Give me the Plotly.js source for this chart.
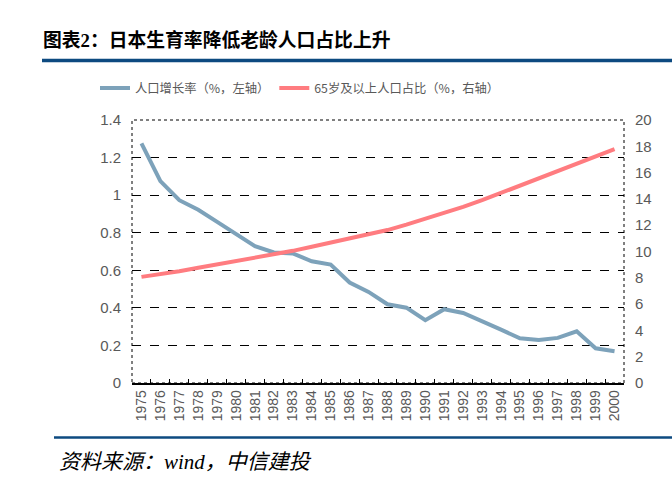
<!DOCTYPE html>
<html>
<head>
<meta charset="utf-8">
<script src="https://cdn.plot.ly/plotly-3.0.1.min.js"></script>
<style>html,body{margin:0;padding:0;background:#fff;}#chart{width:672px;height:497px;}</style>
</head>
<body>
<div id="chart"></div>
<script>
var years = ["1975","1976","1977","1978","1979","1980","1981","1982","1983","1984","1985","1986","1987","1988","1989","1990","1991","1992","1993","1994","1995","1996","1997","1998","1999","2000"];
var growthRate = [1.276,1.075,0.973,0.922,0.858,0.796,0.728,0.695,0.690,0.648,0.630,0.535,0.485,0.419,0.401,0.334,0.393,0.373,0.330,0.284,0.238,0.229,0.240,0.275,0.185,0.169];
var elderlyShare = [8.07,8.27,8.50,8.76,9.01,9.26,9.54,9.80,10.05,10.36,10.66,10.99,11.30,11.63,12.04,12.47,12.92,13.40,13.90,14.46,14.99,15.58,16.13,16.71,17.27,17.78];
var seriesNames = ["人口增长率（%，左轴）","65岁及以上人口占比（%，右轴）"];
var leftTicks = [0,0.2,0.4,0.6,0.8,1,1.2,1.4];
var rightTicks = [0,2,4,6,8,10,12,14,16,18,20];

var traces = [
  {x: years, y: growthRate, name: seriesNames[0], type: 'scatter', mode: 'lines',
   line: {color: '#7da2ba', width: 4}, yaxis: 'y'},
  {x: years, y: elderlyShare, name: seriesNames[1], type: 'scatter', mode: 'lines',
   line: {color: '#ff7c80', width: 4}, yaxis: 'y2'}
];

var tickFont = {family: 'Liberation Sans, Arial, sans-serif', size: 15, color: '#595959'};

var layout = {
  width: 672, height: 497,
  margin: {l: 132, r: 48, t: 120, b: 114},
  paper_bgcolor: '#fff', plot_bgcolor: '#fff',
  showlegend: true,
  title: {
    text: '图表<span style="font-family:Liberation Serif">2</span>：日本生育率降低老龄人口占比上升',
    font: {family: 'Noto Sans CJK SC, sans-serif', size: 18.8, color: '#000', weight: 'bold'},
    xref: 'container', yref: 'container', x: 43/672, xanchor: 'left', y: 1 - 40/497, yanchor: 'middle'
  },
  legend: {
    orientation: 'h', xref: 'container', yref: 'container',
    x: 95/672, xanchor: 'left', y: 1 - 88/497, yanchor: 'middle',
    font: {family: 'Noto Sans CJK SC, sans-serif', size: 12.3, color: '#595959'},
    itemwidth: 30,
    bgcolor: 'rgba(0,0,0,0)'
  },
  xaxis: {
    type: 'category', categoryorder: 'array', categoryarray: years, range: [-0.5, 25.5],
    tickangle: -90, tickfont: {family: 'Liberation Sans, Arial, sans-serif', size: 14, color: '#595959'},
    showline: true, linecolor: '#000', linewidth: 1.5,
    ticks: 'inside', tickson: 'boundaries', ticklen: 4, tickcolor: '#000', tickwidth: 1,
    showgrid: false, zeroline: false, fixedrange: true
  },
  yaxis: {
    range: [0, 1.4], tickvals: leftTicks, ticktext: leftTicks.map(String),
    tickfont: tickFont, showgrid: true, gridcolor: '#000', gridwidth: 1, griddash: 'dash',
    zeroline: false, showline: false, ticks: '', ticklabelstandoff: 10
  },
  yaxis2: {
    overlaying: 'y', side: 'right', range: [0, 20], tickvals: rightTicks, ticktext: rightTicks.map(String),
    tickfont: tickFont, showgrid: false, zeroline: false, showline: false, ticks: '', ticklabelstandoff: 10
  },
  shapes: [
    {type: 'rect', xref: 'paper', yref: 'paper', x0: 0, x1: 1, y0: 0, y1: 1,
     line: {color: '#000', width: 1, dash: 'dot'}, layer: 'below'},
    {type: 'line', xref: 'paper', yref: 'paper', x0: (42-132)/492, x1: (672-132)/492,
     y0: (383-60.5)/263, y1: (383-60.5)/263, line: {color: '#0d4a80', width: 3.5}},
    {type: 'line', xref: 'paper', yref: 'paper', x0: (54-132)/492, x1: (672-132)/492,
     y0: (383-437.5)/263, y1: (383-437.5)/263, line: {color: '#0d4a80', width: 2.7}}
  ],
  annotations: [
    {text: '<i>资料来源：wind，中信建投</i>', xref: 'paper', yref: 'paper',
     x: (57-132)/492, xanchor: 'left', y: (383-462)/263, yanchor: 'middle', showarrow: false,
     font: {family: 'Liberation Serif, Noto Sans CJK SC, serif', size: 21, color: '#000'}}
  ]
};

Plotly.newPlot('chart', traces, layout, {displayModeBar: false, staticPlot: true});
</script>
</body>
</html>
